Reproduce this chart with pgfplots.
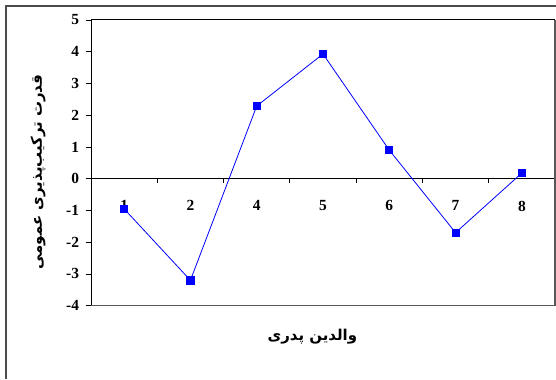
\documentclass[border=0pt]{standalone}
\usepackage{pgfplots}
\pgfplotsset{compat=1.18}
\usepackage{fontspec}
\setmainfont{Liberation Serif}
\newfontfamily\arabicfont[Script=Arabic]{DejaVu Sans}
\TeXXeTstate=1
\begin{document}
\begin{tikzpicture}[x=1bp,y=1bp]
\useasboundingbox (0,0) rectangle (556,379);
\fill[white] (0,0) rectangle (556,379);
\draw[line width=1.5bp, gray!60!black] (6,0) -- (6,373) -- (557,373);
\begin{axis}[
  at={(91bp,73.3bp)}, anchor=south west,
  scale only axis, width=464bp, height=285.7bp,
  xmin=-0.5, xmax=6.5, ymin=-4, ymax=5,
  enlargelimits=false,
  axis x line=middle, axis y line=left,
  axis line style={-, black, line width=1bp},
  hide obscured x ticks=false, hide obscured y ticks=false,
  xtick={0,...,6}, xticklabels={1,2,4,5,6,7,8},
  minor xtick={0.5,1.5,...,5.5},
  major x tick style={draw=none},
  minor x tick style={black, line width=0.8bp},
  minor tick length=4.5bp,
  ytick={-4,...,5},
  y tick style={black, line width=0.8bp},
  major tick length=5.5bp,
  tick align=outside,
  /pgf/number format/assume math mode=true,
  every tick label/.append style={font=\fontsize{15.5}{17}\selectfont\bfseries},
  xticklabel style={yshift=-13bp},
  yticklabel style={xshift=-3bp},
  xlabel={\arabicfont\bfseries\beginR والدین پدری\endR},
  ylabel={\arabicfont\bfseries\beginR قدرت ترکیب‌پذیری عمومی\endR},
  xlabel style={at={(axis description cs:0.477,-0.1085)}, anchor=center, font=\fontsize{15}{17}\selectfont},
  ylabel style={at={(axis description cs:-0.1142,0.468)}, anchor=center, font=\fontsize{15}{17}\selectfont},
  clip=false,
]
\draw[black, line width=1bp] (rel axis cs:0,1) -- (rel axis cs:1,1);
\draw[gray!70!black, line width=1.2bp] (rel axis cs:1,1) -- (rel axis cs:1,0) -- (rel axis cs:0,0);
\addplot[color={rgb,255:red,0;green,0;blue,255}, line width=0.8bp, mark=square*, mark size=3.6bp,
  mark options={fill={rgb,255:red,0;green,0;blue,255}, draw={rgb,255:red,0;green,0;blue,255}}]
  coordinates {(0,-0.95) (1,-3.2) (2,2.29) (3,3.93) (4,0.9) (5,-1.7) (6,0.18)};
\end{axis}
\end{tikzpicture}
\end{document}
